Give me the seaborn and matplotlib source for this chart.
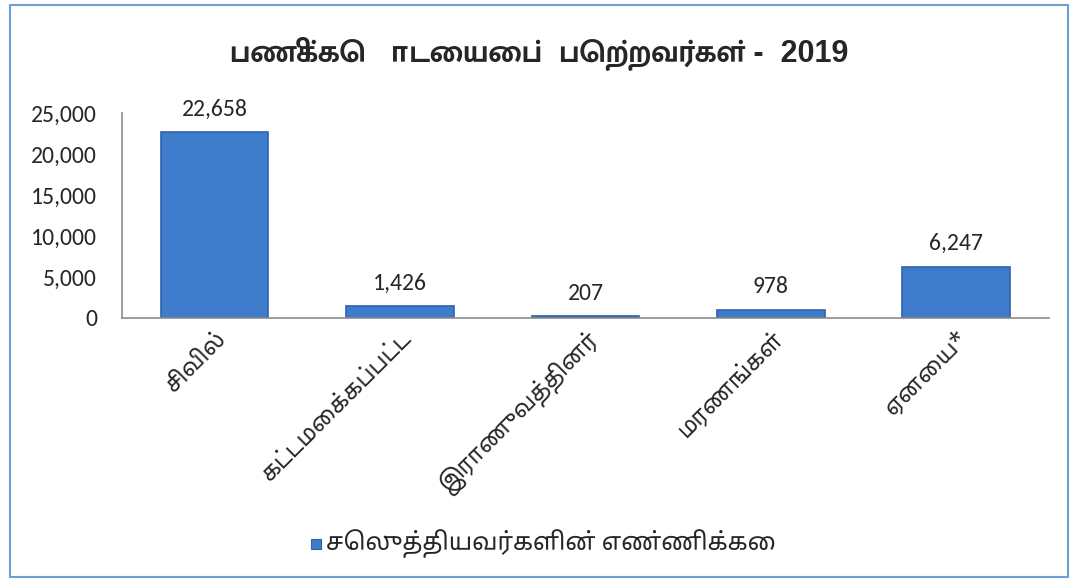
import matplotlib
matplotlib.use("Agg")
import matplotlib.pyplot as plt
import seaborn as sns
import pandas as pd
from matplotlib.patches import Rectangle
from matplotlib.ticker import FuncFormatter

categories = ["சிவில்", "கட்டமைக்கப்பட்ட", "இராணுவத்தினர்", "மரணங்கள்", "ஏனைய*"]
values = [22658, 1426, 207, 978, 6247]
title = "பணிக்கொடையைப்  பெற்றவர்கள் -  2019"
series_name = "செலுத்தியவர்களின் எண்ணிக்கை"

sns.set_style("white")
plt.rcParams['font.family'] = ['Carlito', 'Noto Sans Tamil', 'Lohit Tamil', 'DejaVu Sans']
tamil = ['Noto Sans Tamil', 'Lohit Tamil', 'DejaVu Sans']

df = pd.DataFrame({"cat": categories, "val": values})

fig = plt.figure(figsize=(10.78, 5.83), dpi=100)
ax = fig.add_axes([0.1132, 0.4546, 0.8598, 0.3516])
sns.barplot(data=df, x="cat", y="val", ax=ax, color="#3e7bcb", width=0.58,
            edgecolor="#2f62ad", linewidth=1.2, saturation=1)

ax.set_ylim(0, 25000)
ax.set_yticks([0, 5000, 10000, 15000, 20000, 25000])
ax.yaxis.set_major_formatter(FuncFormatter(lambda v, p: f"{int(v):,}"))
ax.tick_params(axis='y', labelsize=17, length=0, pad=18)
ax.tick_params(axis='x', labelsize=16.5, length=0, pad=6)
for lbl in ax.get_xticklabels():
    lbl.set_rotation(45)
    lbl.set_ha("right")
    lbl.set_rotation_mode("anchor")
    lbl.set_family(tamil)
ax.set_xlabel("")
ax.set_ylabel("")
for s in ["top", "right"]:
    ax.spines[s].set_visible(False)
for s in ["left", "bottom"]:
    ax.spines[s].set_color("#8c8c8c")
    ax.spines[s].set_linewidth(1.2)

for i, v in enumerate(values):
    ax.annotate(f"{v:,}", (i, v), xytext=(0, 9), textcoords="offset points",
                ha="center", va="bottom", fontsize=17)

fig.text(0.5, 0.908, title, ha="center", va="center", fontsize=22, fontweight="bold",
         family=['Liberation Sans', 'Mukta Malar', 'Noto Sans Tamil', 'DejaVu Sans'])

# legend
fig.patches.append(Rectangle((0.2885, 0.058), 0.0095, 0.0175, transform=fig.transFigure,
                             facecolor="#3e7bcb", edgecolor="#2f62ad", lw=0.8))
fig.text(0.302, 0.067, series_name, ha="left", va="center", fontsize=17.5, family=tamil)

# border
fig.patches.append(Rectangle((0.009, 0.01), 0.982, 0.982, transform=fig.transFigure,
                             fill=False, edgecolor="#6f9fd8", lw=1.5))

fig.savefig("out.png", dpi=100)
